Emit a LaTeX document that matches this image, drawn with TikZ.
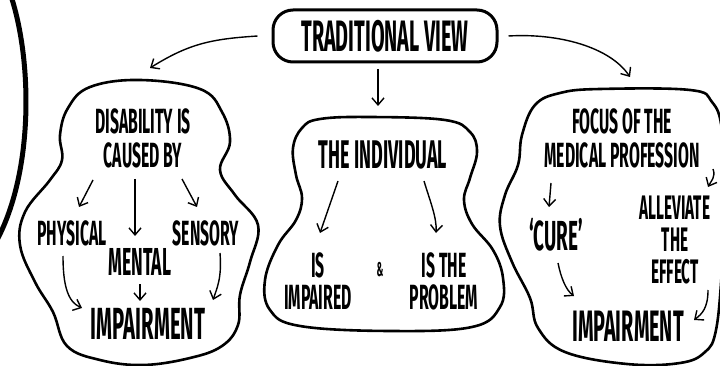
\documentclass[tikz,border=0pt]{standalone}
\usepackage{fontspec}
\usepackage{tikz}
\usetikzlibrary{arrows.meta, positioning, calc}
\newfontfamily\handfont[FakeStretch=0.45]{Fira Sans}

\begin{document}
\begin{tikzpicture}[
    x=1pt, y=-1pt,
    hand/.style 2 args={font=\handfont\bfseries\fontsize{#1}{#2}\selectfont, align=center, inner sep=1pt},
    blob/.style={line width=2.6pt, line join=round},
    arr/.style={->, line width=1.4pt},
    >={Straight Barb[length=7pt, width=12pt]}
  ]
  \useasboundingbox (0,0) rectangle (720,366);

  % heavy bracket on the far left
  \draw[line width=5pt] (11,-4) .. controls (32,60) and (34,170) .. (-3,240);

  \node[draw, line width=3pt, rounded corners=20pt, minimum width=224pt, minimum height=52pt, hand={44}{36}] (trad) at (385,36) {TRADITIONAL VIEW};

  % three cloud outlines
  \draw[blob] plot[smooth cycle, tension=0.65] coordinates {
    (140,80) (200,89) (222,112) (230,142) (220,170) (235,195) (258,225) (250,262)
    (240,295) (238,325) (222,346) (190,358) (143,365) (100,360) (67,346) (53,312)
    (35,282) (20,245) (25,212) (50,180) (62,160) (60,135) (68,108) (90,87)};
  \draw[blob] plot[smooth cycle, tension=0.65] coordinates {
    (370,117) (445,120) (470,132) (477,152) (470,178) (464,200) (472,224) (493,250)
    (503,278) (500,307) (472,327) (390,331) (300,326) (270,310) (265,280) (278,245)
    (296,220) (302,198) (296,175) (293,148) (302,128) (320,119)};
  \draw[blob] plot[smooth cycle, tension=0.65] coordinates {
    (600,89) (690,90) (712,102) (722,130) (726,200) (722,270) (716,330) (705,352)
    (680,363) (627,364) (565,352) (538,328) (530,298) (512,262) (500,226) (505,195)
    (518,165) (522,135) (535,105) (560,93)};

  \coordinate (lTop) at (150,68);
  \coordinate (rTop) at (630,77);

  % left cloud
  \node[hand={35}{34}] (disab) at (143,138) {DISABILITY IS\\CAUSED BY};
  \node[hand={35}{30}] (phys) at (72,233) {PHYSICAL};
  \node[hand={35}{30}] (sens) at (206,233) {SENSORY};
  \node[hand={39}{30}] (ment) at (140,262) {MENTAL};
  \node[hand={45}{36}] (impL) at (148,324) {IMPAIRMENT};

  % middle cloud
  \node[hand={40}{32}] (indiv) at (383,155) {THE INDIVIDUAL};
  \node[hand={35}{32}] (isImp) at (318,281) {IS\\IMPAIRED};
  \node[hand={20}{20}] (amp) at (380,270) {\&};
  \node[hand={35}{32}] (isProb) at (444,281) {IS THE\\PROBLEM};

  % right cloud
  \node[hand={35}{34}] (focus) at (622,138) {FOCUS OF THE\\MEDICAL PROFESSION};
  \node[hand={42}{32}] (cure) at (556,235) {‘CURE’};
  \node[hand={34}{32}] (allev) at (675,240) {ALLEVIATE\\THE\\EFFECT};
  \node[hand={44}{36}] (impR) at (628,326) {IMPAIRMENT};

  \draw[arr] ([xshift=-14pt]trad.west) .. controls +(-45,3) and +(40,-25) .. (lTop);
  \draw[arr] ([xshift=10pt]trad.east) .. controls +(50,-3) and +(-20,-30) .. (rTop);
  \draw[arr] ($(trad.south)+(-7,6)$) -- ($(indiv)+(-5,-49)$);

  \draw[arr] ($(disab)+(-50,42)$) -- ($(phys)+(7,-26)$);
  \draw[arr] ($(disab)+(-8,41)$) -- ($(ment)+(-5,-26)$);
  \draw[arr] ($(disab)+(39,41)$) -- ($(sens)+(-9,-26)$);
  \draw[arr] ($(phys)+(-9,23)$) .. controls +(0,30) and +(-14,-6) .. ($(impL)+(-66,-16)$);
  \draw[arr] ($(ment)+(0,22)$) -- ($(impL)+(-8,-23)$);
  \draw[arr] ($(sens)+(14,20)$) .. controls +(2,25) and +(4,-12) .. ($(impL)+(65,-24)$);

  \draw[arr] ($(indiv)+(-45,26)$) -- ($(isImp)+(2,-48)$);
  \draw[arr] ($(indiv)+(41,26)$) .. controls +(6,20) and +(1,-15) .. ($(isProb)+(-8,-48)$);

  \draw[arr] ($(focus)+(-71,45)$) -- ($(cure)+(-7,-28)$);
  \draw[arr] ($(focus)+(91,31)$) .. controls +(3,8) and +(3,-6) .. ($(allev)+(33,-53)$);
  \draw[arr] ($(cure)+(2,28)$) .. controls +(3,15) and +(-8,-6) .. ($(impR)+(-54,-30)$);
  \draw[arr] ($(allev)+(33,50)$) .. controls +(0,18) and +(8,-6) .. ($(impR)+(66,-6)$);
\end{tikzpicture}
\end{document}
